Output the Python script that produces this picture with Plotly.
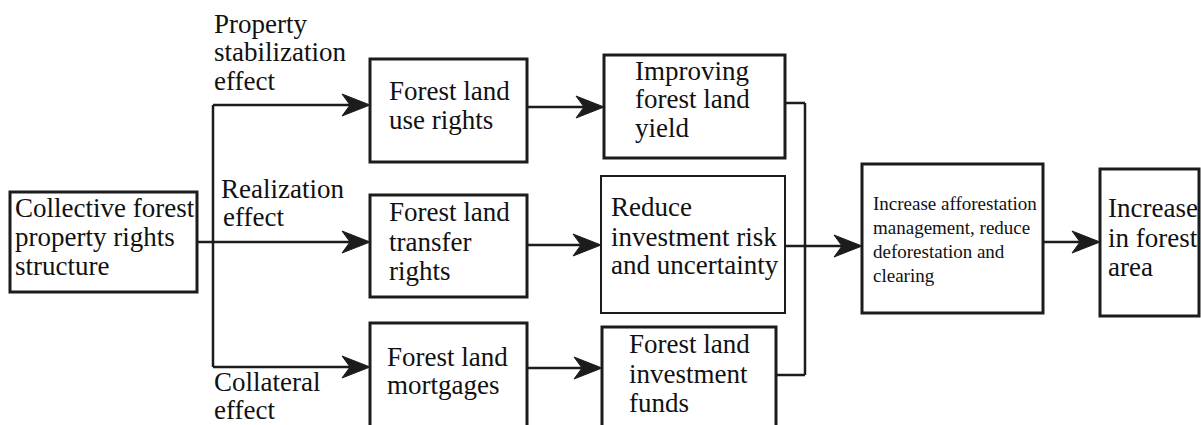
import plotly.graph_objects as go

# ---- text content ----
source_lines = ["Collective forest", "property rights", "structure"]
effect_labels = [
    ["Property", "stabilization", "effect"],
    ["Realization", "effect"],
    ["Collateral", "effect"],
]
rights_boxes = [
    ["Forest land", "use rights"],
    ["Forest land", "transfer", "rights"],
    ["Forest land", "mortgages"],
]
outcome_boxes = [
    ["Improving", "forest land", "yield"],
    ["Reduce", "investment risk", "and uncertainty"],
    ["Forest land", "investment", "funds"],
]
behaviour_lines = ["Increase afforestation", "management, reduce",
                   "deforestation and", "clearing"]
final_lines = ["Increase", "in forest", "area"]

# ---- layout geometry (pixel space, y downwards) ----
W, H = 1201, 425
INK = "#1c1c1c"
FONT = "Liberation Serif"
FS = 27

# box: (x0, y0, x1, y1, border width)
geo_source = (10, 192, 197, 292, 3)
geo_rights = [(370, 59, 527, 162, 3), (370, 195, 527, 297, 3), (370, 323, 527, 445, 3)]
geo_outcome = [(604, 55, 785, 158, 3), (601, 176, 785, 313, 2), (602, 327, 776, 445, 3)]
geo_behaviour = (862, 164, 1043, 313, 3)
geo_final = (1100, 169, 1199, 316, 3)

# text placement: (left x, list of line centres)
txt_source = (13, [208, 237, 266])
txt_effects = [(212, [24, 52, 81], [0, 0, 0]), (219, [189, 217], [0, 2]), (212, [382, 410], [0, 0])]
txt_rights = [(387, [91, 120]), (387, [212, 242, 271]), (385, [357, 385])]
txt_outcome = [(633, [71, 99, 128]), (609, [207, 237, 265]), (627, [344, 374, 403])]
txt_behaviour = (871, [203, 227, 251, 275])
txt_final = (1106, [208, 238, 267])

branch_x = 213
branch_y = [105, 242, 367]
link_y = [107, 245, 368]
merge_x = 805

fig = go.Figure()
shapes = []
annots = []


def box(g):
    x0, y0, x1, y1, w = g
    shapes.append(dict(type="rect", xref="x", yref="y", x0=x0, y0=y0, x1=x1, y1=y1,
                       line=dict(color=INK, width=w), fillcolor="white", layer="below"))


def line(x0, y0, x1, y1, w=2.5):
    shapes.append(dict(type="line", xref="x", yref="y", x0=x0, y0=y0, x1=x1, y1=y1,
                       line=dict(color=INK, width=w)))


def arrow(x0, x1, y, w=2.5):
    line(x0, y, x1 - 14, y, w)
    L, hw, notch = 28, 11, 20
    p = f"M {x1},{y} L {x1-L},{y-hw} L {x1-notch},{y} L {x1-L},{y+hw} Z"
    shapes.append(dict(type="path", xref="x", yref="y", path=p,
                       fillcolor=INK, line=dict(color=INK, width=1)))


def text(x, ys, lines, size=FS, dx=None):
    for i, (yy, t) in enumerate(zip(ys, lines)):
        off = dx[i] if dx else 0
        annots.append(dict(x=x + off, y=yy, xref="x", yref="y", text=t, showarrow=False,
                           xanchor="left", yanchor="middle",
                           font=dict(family=FONT, size=size, color="#111")))


# boxes
box(geo_source)
for g in geo_rights + geo_outcome:
    box(g)
box(geo_behaviour)
box(geo_final)

# connectors from source
line(geo_source[2], branch_y[1], branch_x, branch_y[1])
line(branch_x, branch_y[0], branch_x, branch_y[2])
for by, g in zip(branch_y, geo_rights):
    arrow(branch_x, g[0], by)

# rights -> outcomes
for ly, gr, go_ in zip(link_y, geo_rights, geo_outcome):
    arrow(gr[2], go_[0], ly)

# outcomes -> merge
line(geo_outcome[0][2], 103, merge_x, 103)
line(geo_outcome[2][2], 375, merge_x, 375)
line(merge_x, 103, merge_x, 375)
arrow(geo_outcome[1][2], geo_behaviour[0], 246)

# behaviour -> final
arrow(geo_behaviour[2], geo_final[0], 242)

# texts
text(txt_source[0], txt_source[1], source_lines)
for (x, ys, dx), lines in zip(txt_effects, effect_labels):
    text(x, ys, lines, dx=dx)
for (x, ys), lines in zip(txt_rights, rights_boxes):
    text(x, ys, lines)
for (x, ys), lines in zip(txt_outcome, outcome_boxes):
    text(x, ys, lines)
text(txt_behaviour[0], txt_behaviour[1], behaviour_lines, size=19)
text(txt_final[0], txt_final[1], final_lines)

fig.update_layout(
    width=W, height=H,
    margin=dict(l=0, r=0, t=0, b=0),
    paper_bgcolor="white", plot_bgcolor="white",
    xaxis=dict(range=[0, W], visible=False, fixedrange=True),
    yaxis=dict(range=[H, 0], visible=False, fixedrange=True),
    shapes=shapes, annotations=annots, showlegend=False,
)
fig.write_html(
    "out.html",
    config={"displayModeBar": False},
    post_script="document.body.style.margin='0';document.body.style.overflow='hidden';",
)
